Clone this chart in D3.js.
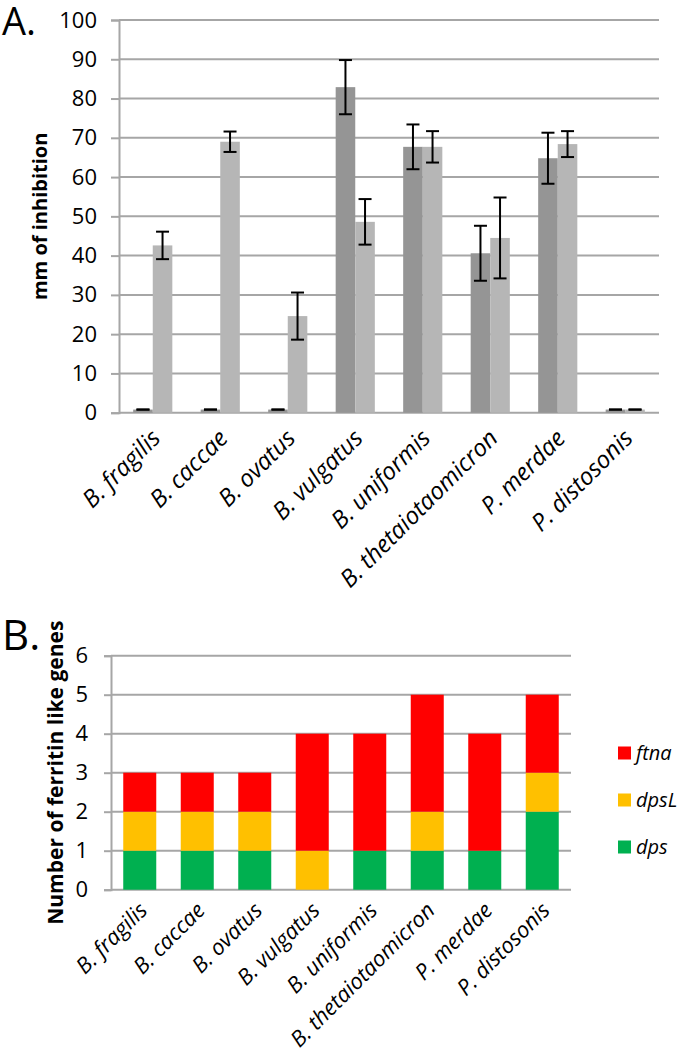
<!DOCTYPE html>
<html>
<head>
<meta charset="utf-8">
<script src="https://cdn.jsdelivr.net/npm/d3@7"></script>
<style>
  body { margin: 0; background: #fff; }
  svg { display: block; font-family: "Open Sans", sans-serif; }
</style>
</head>
<body>
<svg id="chart" width="680" height="1058"></svg>
<script>
// ---- Data ----
const species = ["B. fragilis", "B. caccae", "B. ovatus", "B. vulgatus", "B. uniformis", "B. thetaiotaomicron", "P. merdae", "P. distosonis"];

// Panel A: zone of inhibition (mm), two conditions
const seriesA = ["s1", "s2"];
const inhib1 = [0.8, 0.8, 0.8, 82.9, 67.7, 40.6, 64.8, 0.8];
const inhib2 = [42.6, 69.0, 24.6, 48.6, 67.7, 44.5, 68.4, 0.8];
const err1 = [0, 0, 0, 6.9, 5.7, 7.0, 6.5, 0];
const err2 = [3.5, 2.6, 6.0, 5.8, 4.0, 10.3, 3.3, 0];
const ticksA = [0, 10, 20, 30, 40, 50, 60, 70, 80, 90, 100];

// Panel B: number of ferritin-like genes (stacked)
const genes = ["dps", "dpsL", "ftna"];
const dps  = [1, 1, 1, 0, 1, 1, 1, 2];
const dpsL = [1, 1, 1, 1, 0, 1, 0, 1];
const ftna = [1, 1, 1, 3, 3, 3, 3, 2];
const ticksB = [0, 1, 2, 3, 4, 5, 6];
const legendOrder = ["ftna", "dpsL", "dps"];

// ---- Styles ----
const colA = { s1: "#959595", s2: "#b6b6b6" };
const colB = { dps: "#00b050", dpsL: "#ffc000", ftna: "#ff0000" };
const gridCol = "#a6a6a6";

const svg = d3.select("#chart");

// ================= Panel A =================
const A = { left: 119, right: 659, top: 20, bottom: 412.7 };
const xA = d3.scaleBand().domain(species).range([A.left, A.right]).paddingInner(0.42).paddingOuter(0.21);
const x1A = d3.scaleBand().domain(seriesA).range([0, xA.bandwidth()]);
const yA = d3.scaleLinear().domain([0, 100]).range([A.bottom, A.top]);

const gA = svg.append("g");
gA.selectAll("line.grid").data(ticksA).join("line")
  .attr("x1", A.left).attr("x2", A.right)
  .attr("y1", d => yA(d)).attr("y2", d => yA(d))
  .attr("stroke", gridCol).attr("stroke-width", 2);

const axA = gA.append("g").attr("transform", `translate(${A.left},0)`)
  .call(d3.axisLeft(yA).tickValues(ticksA).tickFormat(d3.format("d")).tickSize(8).tickPadding(14));
axA.select(".domain").attr("stroke", gridCol).attr("stroke-width", 2);
axA.selectAll(".tick line").attr("stroke", gridCol).attr("stroke-width", 2);
axA.selectAll(".tick text").attr("font-size", 22).attr("fill", "#000").attr("font-family", "Open Sans");

const rowsA = species.map((s, i) => ({ s, vals: [
  { k: "s1", v: inhib1[i], e: err1[i] },
  { k: "s2", v: inhib2[i], e: err2[i] } ] }));

const grp = gA.selectAll("g.grp").data(rowsA).join("g")
  .attr("transform", d => `translate(${xA(d.s)},0)`);
grp.selectAll("rect").data(d => d.vals).join("rect")
  .attr("x", d => x1A(d.k)).attr("width", x1A.bandwidth())
  .attr("y", d => yA(d.v)).attr("height", d => yA(0) - yA(d.v))
  .attr("fill", d => colA[d.k]);
const eb = grp.selectAll("g.eb").data(d => d.vals).join("g")
  .attr("transform", d => `translate(${x1A(d.k) + x1A.bandwidth() / 2},0)`)
  .attr("stroke", "#000").attr("stroke-width", 2);
eb.append("line").attr("y1", d => yA(d.v + d.e)).attr("y2", d => yA(d.v - d.e));
eb.append("line").attr("x1", -6.5).attr("x2", 6.5).attr("y1", d => yA(d.v + d.e)).attr("y2", d => yA(d.v + d.e));
eb.append("line").attr("x1", -6.5).attr("x2", 6.5).attr("y1", d => yA(d.v - d.e)).attr("y2", d => yA(d.v - d.e));

gA.selectAll("text.xl").data(species).join("text")
  .attr("text-anchor", "end")
  .attr("transform", d => `translate(${xA(d) + xA.bandwidth() / 2 + 9},${A.bottom + 27}) rotate(-45)`)
  .attr("font-size", 24).attr("font-style", "italic").text(d => d);

gA.append("text").attr("transform", `translate(47,${(A.top + A.bottom) / 2}) rotate(-90)`)
  .attr("text-anchor", "middle").attr("font-size", 20).attr("font-weight", "bold").text("mm of inhibition");

svg.append("text").attr("x", 2).attr("y", 35).attr("font-size", 38).text("A.");

// ================= Panel B =================
const B = { left: 111, right: 571, top: 655.7, bottom: 889.7 };
const xB = d3.scaleBand().domain(species).range([B.left, B.right]).paddingInner(0.426).paddingOuter(0.213);
const yB = d3.scaleLinear().domain([0, 6]).range([B.bottom, B.top]);

const gB = svg.append("g");
gB.selectAll("line.grid").data(ticksB).join("line")
  .attr("x1", B.left).attr("x2", B.right)
  .attr("y1", d => yB(d)).attr("y2", d => yB(d))
  .attr("stroke", gridCol).attr("stroke-width", 2);
const axB = gB.append("g").attr("transform", `translate(${B.left},0)`)
  .call(d3.axisLeft(yB).tickValues(ticksB).tickFormat(d3.format("d")).tickSize(7).tickPadding(16));
axB.select(".domain").attr("stroke", gridCol).attr("stroke-width", 2);
axB.selectAll(".tick line").attr("stroke", gridCol).attr("stroke-width", 2);
axB.selectAll(".tick text").attr("font-size", 22).attr("fill", "#000").attr("font-family", "Open Sans");

const tableB = species.map((s, i) => ({ s, dps: dps[i], dpsL: dpsL[i], ftna: ftna[i] }));
const stack = d3.stack().keys(genes)(tableB);
gB.selectAll("g.layer").data(stack).join("g")
  .attr("fill", d => colB[d.key])
  .selectAll("rect").data(d => d).join("rect")
  .attr("x", d => xB(d.data.s)).attr("width", xB.bandwidth())
  .attr("y", d => yB(d[1])).attr("height", d => yB(d[0]) - yB(d[1]));

gB.selectAll("text.xl").data(species).join("text")
  .attr("text-anchor", "end")
  .attr("transform", d => `translate(${xB(d) + xB.bandwidth() / 2 + 9},${B.bottom + 22}) rotate(-45)`)
  .attr("font-size", 22).attr("font-style", "italic").text(d => d);

gB.append("text").attr("transform", `translate(63,${(B.top + B.bottom) / 2}) rotate(-90)`)
  .attr("text-anchor", "middle").attr("font-size", 21).attr("font-weight", "bold").text("Number of ferritin like genes");

svg.append("text").attr("x", 2).attr("y", 650).attr("font-size", 42).text("B.");

const lg = gB.selectAll("g.lg").data(legendOrder).join("g")
  .attr("transform", (d, i) => `translate(618,${753 + i * 47})`);
lg.append("rect").attr("x", 0).attr("y", -6.5).attr("width", 13).attr("height", 13).attr("fill", d => colB[d]);
lg.append("text").attr("x", 18).attr("y", 0).attr("dy", "0.35em")
  .attr("font-size", 20).attr("font-style", "italic").text(d => d);
</script>
</body>
</html>
